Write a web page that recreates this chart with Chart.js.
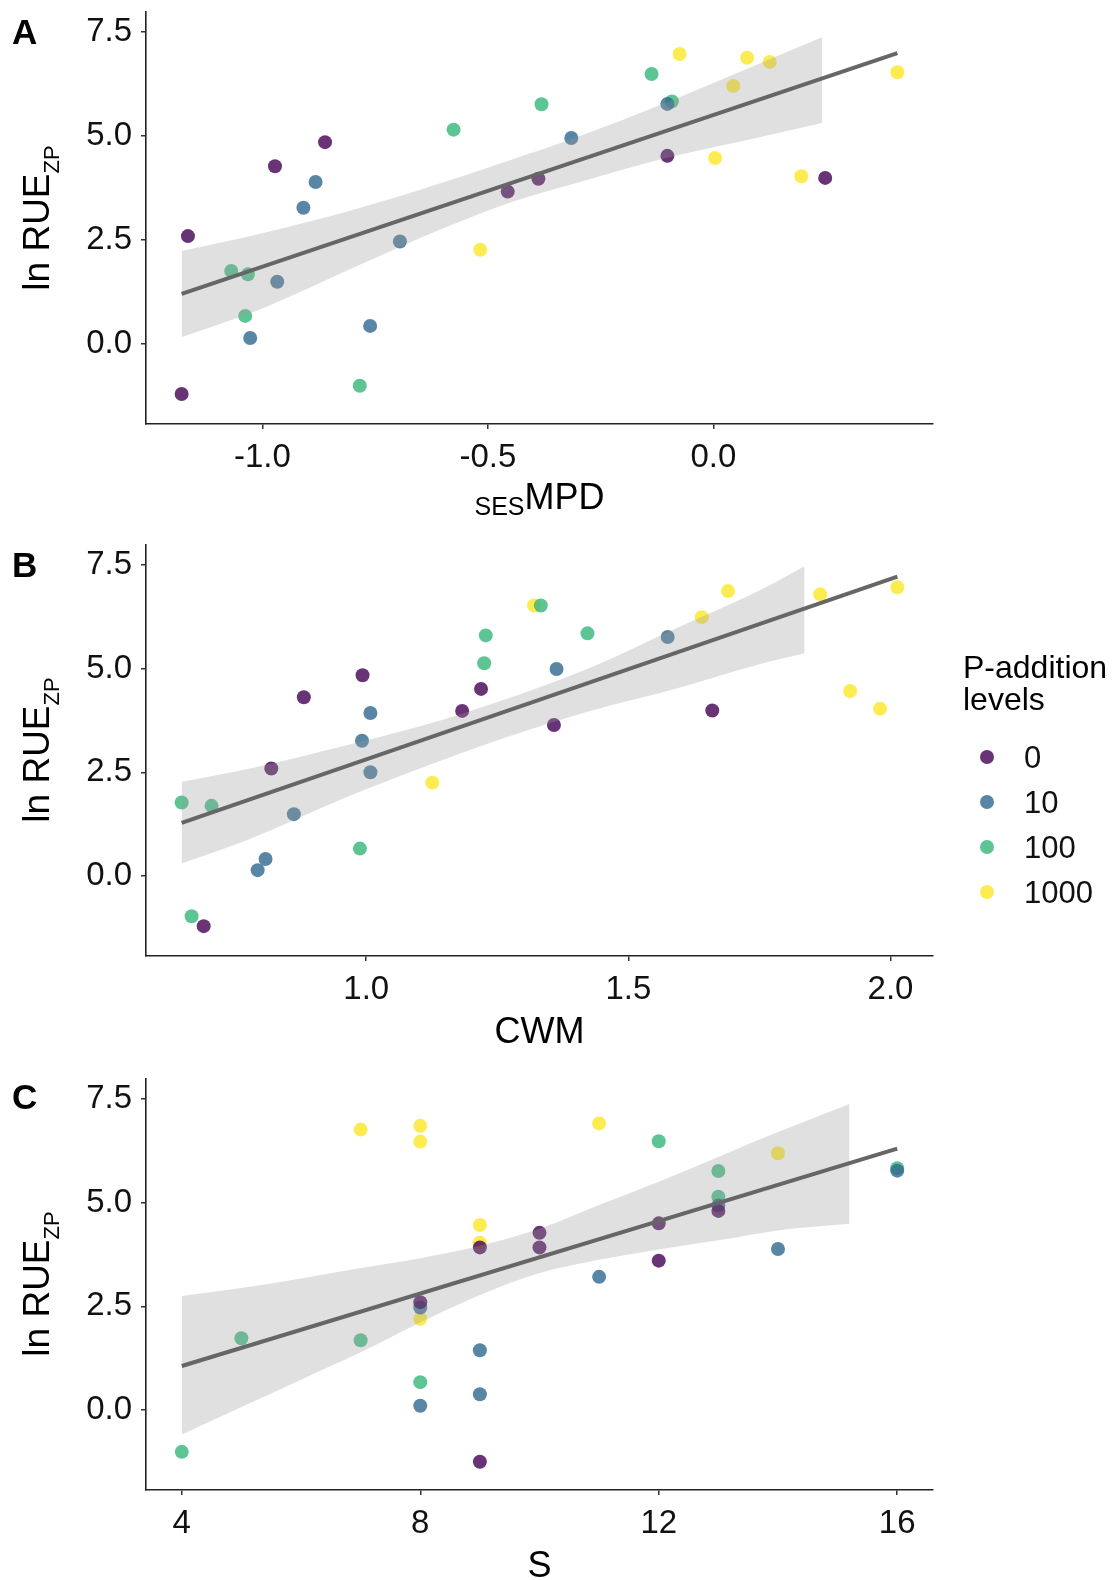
<!DOCTYPE html>
<html lang="en">
<head>
<meta charset="utf-8">
<title>ln RUE ZP</title>
<script src="https://cdn.jsdelivr.net/npm/chart.js@4.4.1/dist/chart.umd.min.js"></script>
<style>
    html, body { margin: 0; padding: 0; background: #fff; }
    #page { position: relative; width: 1118px; height: 1580px; overflow: hidden; font-family: "Liberation Sans", Arial, sans-serif; color: #000; }
    canvas { position: absolute; left: 0; }
    .letter { position: absolute; left: 12px; font-size: 35px; line-height: 35px; font-weight: bold; }
    .ytitle { position: absolute; left: 36px; font-size: 37px; line-height: 37px; white-space: nowrap; transform: translate(-50%, -50%) rotate(-90deg); }
    .ysub { font-size: 22px; line-height: 0; position: relative; top: 10px; }
    .xtitle { position: absolute; left: 539.5px; font-size: 36px; line-height: 36px; white-space: nowrap; transform: translateX(-50%); }
    .xsub { font-size: 25px; line-height: 0; position: relative; top: 6px; }
    .ltitle { position: absolute; left: 963px; top: 651px; font-size: 32px; line-height: 32px; }
    .ldot { position: absolute; width: 14px; height: 14px; border-radius: 50%; }
    .llabel { position: absolute; left: 1024px; font-size: 31px; line-height: 31px; color: #111; }
</style>
</head>
<body>
<div id="page">
    <canvas id="chartA" width="1118" height="530" style="top:0px"></canvas>
    <canvas id="chartB" width="1118" height="530" style="top:530px"></canvas>
    <canvas id="chartC" width="1118" height="520" style="top:1060px"></canvas>

    <div class="letter" style="top:14px">A</div>
    <div class="letter" style="top:547px">B</div>
    <div class="letter" style="top:1079px">C</div>

    <div class="ytitle" style="top:218px">ln RUE<span class="ysub">ZP</span></div>
    <div class="ytitle" style="top:750px">ln RUE<span class="ysub">ZP</span></div>
    <div class="ytitle" style="top:1284px">ln RUE<span class="ysub">ZP</span></div>

    <div class="xtitle" style="top:479px"><span class="xsub">SES</span>MPD</div>
    <div class="xtitle" style="top:1013px">CWM</div>
    <div class="xtitle" style="top:1547px">S</div>

    <div class="ltitle">P-addition<br>levels</div>
    <div id="legend"></div>
</div>

<script>
// P-addition levels and colours (viridis, alpha 0.8)
const levels = ['0', '10', '100', '1000'];
const levelColors = ['rgba(68, 1, 84, 0.8)', 'rgba(49, 104, 142, 0.8)', 'rgba(53, 183, 121, 0.8)', 'rgba(253, 231, 37, 0.8)'];

const yTicks = [0, 2.5, 5, 7.5];
const yTickLabels = ['0.0', '2.5', '5.0', '7.5'];

// Panel A: sesMPD
const mpdP0 = [-1.165, -1.179, -0.972, -0.861, -0.456, -0.388, -0.102, 0.248];
const rueA_P0 = [2.59, -1.21, 4.27, 4.85, 3.66, 3.97, 4.52, 3.99];
const mpdP10 = [-1.027, -0.967, -0.909, -0.882, -0.761, -0.695, -0.315, -0.102];
const rueA_P10 = [0.14, 1.49, 3.27, 3.89, 0.43, 2.46, 4.95, 5.77];
const mpdP100 = [-1.069, -1.032, -1.038, -0.784, -0.576, -0.381, -0.137, -0.092];
const rueA_P100 = [1.75, 1.67, 0.67, -1.01, 5.15, 5.76, 6.49, 5.83];
const mpdP1000 = [-0.517, -0.075, 0.004, 0.044, 0.075, 0.125, 0.195, 0.408];
const rueA_P1000 = [2.26, 6.97, 4.47, 6.20, 6.88, 6.78, 4.03, 6.53];
const fitA_x = [-1.179, 0.408];
const fitA_y = [1.20, 6.99];
const bandA_x = [-1.179, -1.0, -0.8, -0.6, -0.45, -0.3, -0.1, 0.1, 0.241];
const bandA_up = [2.23, 2.66, 3.22, 3.88, 4.42, 4.98, 5.82, 6.73, 7.37];
const bandA_low = [0.16, 0.85, 1.82, 2.77, 3.40, 3.88, 4.48, 4.96, 5.31];
const xTicksA = [-1.0, -0.5, 0.0];
const xLabelsA = ['-1.0', '-0.5', '0.0'];

// Panel B: CWM
const cwmP0 = [0.690, 0.819, 0.881, 0.993, 1.183, 1.219, 1.358, 1.660];
const rueB_P0 = [-1.21, 2.59, 4.31, 4.84, 3.98, 4.51, 3.64, 3.99];
const cwmP10 = [0.793, 0.808, 0.862, 0.992, 1.008, 1.008, 1.363, 1.575];
const rueB_P10 = [0.14, 0.41, 1.49, 3.26, 3.93, 2.50, 4.99, 5.76];
const cwmP100 = [0.648, 0.705, 0.667, 0.988, 1.225, 1.228, 1.333, 1.422];
const rueB_P100 = [1.77, 1.69, -0.97, 0.66, 5.13, 5.80, 6.52, 5.85];
const cwmP1000 = [1.126, 1.320, 1.640, 1.690, 1.866, 2.013, 1.923, 1.980];
const rueB_P1000 = [2.25, 6.52, 6.24, 6.87, 6.79, 6.96, 4.46, 4.03];
const fitB_x = [0.648, 2.013];
const fitB_y = [1.28, 7.22];
const bandB_x = [0.648, 0.785, 0.945, 1.106, 1.266, 1.427, 1.587, 1.748, 1.836];
const bandB_up = [2.27, 2.61, 3.10, 3.62, 4.26, 5.02, 5.95, 6.87, 7.47];
const bandB_low = [0.30, 0.93, 1.81, 2.61, 3.34, 3.98, 4.50, 5.10, 5.37];
const xTicksB = [1.0, 1.5, 2.0];
const xLabelsB = ['1.0', '1.5', '2.0'];

// Panel C: S
const sP0 = [8, 9, 9, 10, 10, 12, 12, 13];
const rueC_P0 = [2.60, 3.92, -1.25, 4.27, 3.92, 4.50, 3.60, 4.80];
const sP10 = [8, 8, 9, 9, 11, 13, 14, 16];
const rueC_P10 = [2.47, 0.10, 1.44, 0.38, 3.21, 4.93, 3.88, 5.77];
const sP100 = [4, 5, 7, 8, 12, 13, 13, 16];
const rueC_P100 = [-1.01, 1.73, 1.68, 0.67, 6.48, 5.76, 5.14, 5.83];
const sP1000 = [7, 8, 8, 8, 9, 9, 11, 14];
const rueC_P1000 = [6.76, 6.85, 6.47, 2.20, 4.46, 4.03, 6.91, 6.19];
const fitC_x = [4, 16];
const fitC_y = [1.06, 6.30];
const bandC_x = [4, 5, 6, 7, 8, 9, 10, 11, 12, 13, 14, 15.2];
const bandC_up = [2.75, 2.94, 3.17, 3.42, 3.66, 3.96, 4.37, 4.94, 5.50, 6.10, 6.70, 7.38];
const bandC_low = [-0.59, 0.07, 0.73, 1.39, 2.11, 2.77, 3.30, 3.62, 3.87, 4.09, 4.33, 4.49];
const xTicksC = [4, 8, 12, 16];
const xLabelsC = ['4', '8', '12', '16'];

const tickFont = { family: '"Liberation Sans", Arial, sans-serif', size: 33 };

function pairs(xs, ys) {
    return xs.map((x, i) => ({ x: x, y: ys[i] }));
}

// Builds one panel: points per level, confidence band and fitted line
function buildPanel(canvasId, groupsX, groupsY, fitX, fitY, bandX, bandUp, bandLow, xMin, xMax, xTicks, xLabels, areaTop, areaBottom) {
    const canvas = document.getElementById(canvasId);
    const height = canvas.height;
    const datasets = [];

    groupsX.forEach((xs, g) => {
        datasets.push({
            type: 'scatter',
            label: levels[g],
            data: pairs(xs, groupsY[g]),
            backgroundColor: levelColors[g],
            borderWidth: 0,
            pointRadius: 7,
            pointHoverRadius: 7,
            order: 3
        });
    });

    // upper edge of the band fills down to the lower edge
    datasets.push({
        type: 'line',
        data: pairs(bandX, bandUp),
        showLine: true,
        borderColor: 'rgba(0,0,0,0)',
        borderWidth: 0,
        pointRadius: 0,
        fill: '+1',
        backgroundColor: 'rgba(153, 153, 153, 0.3)',
        cubicInterpolationMode: 'monotone',
        order: 2
    });
    datasets.push({
        type: 'line',
        data: pairs(bandX, bandLow),
        showLine: true,
        borderColor: 'rgba(0,0,0,0)',
        borderWidth: 0,
        pointRadius: 0,
        fill: false,
        cubicInterpolationMode: 'monotone',
        order: 2
    });

    datasets.push({
        type: 'line',
        data: pairs(fitX, fitY),
        showLine: true,
        borderColor: '#666666',
        borderWidth: 4,
        pointRadius: 0,
        fill: false,
        order: 1
    });

    new Chart(canvas, {
        type: 'scatter',
        data: { datasets: datasets },
        options: {
            responsive: false,
            animation: false,
            devicePixelRatio: 1,
            events: [],
            layout: {
                autoPadding: false,
                padding: { top: areaTop, right: 185, bottom: 0, left: 0 }
            },
            plugins: {
                legend: { display: false },
                tooltip: { enabled: false }
            },
            scales: {
                x: {
                    type: 'linear',
                    min: xMin,
                    max: xMax,
                    afterBuildTicks: s => { s.ticks = xTicks.map(v => ({ value: v })); },
                    afterFit: s => {
                        s.height = height - areaBottom;
                        s.paddingLeft = 0;
                        s.paddingRight = 0;
                    },
                    ticks: {
                        font: tickFont,
                        color: '#111111',
                        padding: 9,
                        maxRotation: 0,
                        autoSkip: false,
                        callback: (v, i) => xLabels[i]
                    },
                    grid: { drawOnChartArea: false, drawTicks: true, tickLength: 5, color: '#333333', lineWidth: 1.5 },
                    border: { display: true, color: '#222222', width: 1.6 }
                },
                y: {
                    type: 'linear',
                    min: -1.93,
                    max: 7.98,
                    afterBuildTicks: s => { s.ticks = yTicks.map(v => ({ value: v })); },
                    afterFit: s => {
                        s.width = 146;
                        s.paddingTop = 0;
                        s.paddingBottom = 0;
                    },
                    ticks: {
                        font: tickFont,
                        color: '#111111',
                        padding: 9,
                        autoSkip: false,
                        callback: (v, i) => yTickLabels[i]
                    },
                    grid: { drawOnChartArea: false, drawTicks: true, tickLength: 5, color: '#333333', lineWidth: 1.5 },
                    border: { display: true, color: '#222222', width: 1.6 }
                }
            }
        }
    });
}

buildPanel('chartA', [mpdP0, mpdP10, mpdP100, mpdP1000], [rueA_P0, rueA_P10, rueA_P100, rueA_P1000],
    fitA_x, fitA_y, bandA_x, bandA_up, bandA_low, -1.258, 0.487, xTicksA, xLabelsA, 12, 424);
buildPanel('chartB', [cwmP0, cwmP10, cwmP100, cwmP1000], [rueB_P0, rueB_P10, rueB_P100, rueB_P1000],
    fitB_x, fitB_y, bandB_x, bandB_up, bandB_low, 0.580, 2.081, xTicksB, xLabelsB, 15, 426);
buildPanel('chartC', [sP0, sP10, sP100, sP1000], [rueC_P0, rueC_P10, rueC_P100, rueC_P1000],
    fitC_x, fitC_y, bandC_x, bandC_up, bandC_low, 3.4, 16.6, xTicksC, xLabelsC, 19, 430);

// Legend for the P-addition levels
const legend = document.getElementById('legend');
levels.forEach((lv, i) => {
    const cy = 757 + 45 * i;
    const dot = document.createElement('div');
    dot.className = 'ldot';
    dot.style.left = (987 - 7) + 'px';
    dot.style.top = (cy - 7) + 'px';
    dot.style.background = levelColors[i];
    legend.appendChild(dot);
    const label = document.createElement('div');
    label.className = 'llabel';
    label.style.top = (cy - 15.5) + 'px';
    label.textContent = lv;
    legend.appendChild(label);
});
</script>
</body>
</html>
